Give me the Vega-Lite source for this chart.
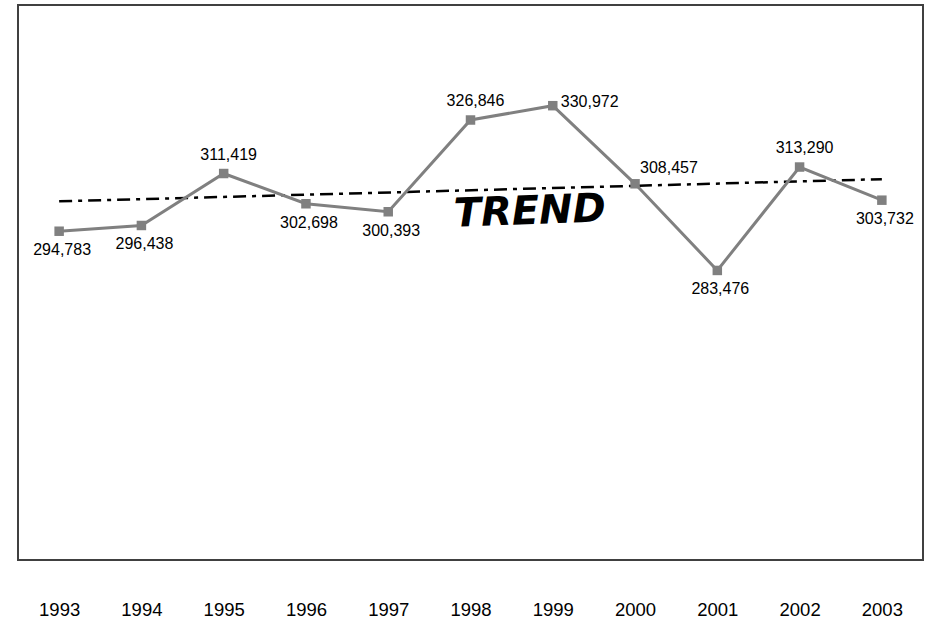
{
  "$schema": "https://vega.github.io/schema/vega-lite/v6.json",
  "autosize": "none",
  "width": 905,
  "height": 555,
  "padding": {"left": 18, "top": 5, "right": 7, "bottom": 59},
  "background": "white",
  "config": {
    "view": {"stroke": "#404040", "strokeWidth": 2},
    "font": "Liberation Sans"
  },
  "datasets": {
    "main": [
      {"year": 1993, "value": 294783},
      {"year": 1994, "value": 296438},
      {"year": 1995, "value": 311419},
      {"year": 1996, "value": 302698},
      {"year": 1997, "value": 300393},
      {"year": 1998, "value": 326846},
      {"year": 1999, "value": 330972},
      {"year": 2000, "value": 308457},
      {"year": 2001, "value": 283476},
      {"year": 2002, "value": 313290},
      {"year": 2003, "value": 303732}
    ],
    "note": [
      {"year": 1998.72, "value": 300300, "label": "TREND"}
    ]
  },
  "data": {"name": "main"},
  "encoding": {
    "x": {
      "field": "year",
      "type": "quantitative",
      "scale": {"domain": [1992.5, 2003.5], "nice": false, "zero": false},
      "axis": {
        "values": [1993, 1994, 1995, 1996, 1997, 1998, 1999, 2000, 2001, 2002, 2003],
        "format": "d",
        "title": null,
        "grid": false,
        "domain": false,
        "ticks": false,
        "tickSize": 0,
        "labelPadding": 49,
        "labelBaseline": "middle",
        "labelFontSize": 18.5,
        "labelColor": "#000000",
        "labelFont": "Liberation Sans"
      }
    },
    "y": {
      "field": "value",
      "type": "quantitative",
      "scale": {"domain": [200000, 360000], "nice": false, "zero": false},
      "axis": null
    }
  },
  "layer": [
    {
      "transform": [{"regression": "value", "on": "year"}],
      "mark": {"type": "line", "color": "#000000", "strokeWidth": 2.5, "strokeDash": [13, 6, 4, 6]}
    },
    {
      "mark": {"type": "line", "color": "#808080", "strokeWidth": 3}
    },
    {
      "mark": {"type": "point", "shape": "square", "filled": true, "size": 90, "color": "#808080", "opacity": 1}
    },
    {
      "transform": [{"filter": {"field": "year", "oneOf": [1993, 1994, 1996, 1997, 2001, 2003]}}],
      "mark": {"type": "text", "dx": 3, "dy": 19, "fontSize": 16, "color": "#000000", "baseline": "middle", "align": "center"},
      "encoding": {"text": {"field": "value", "type": "quantitative", "format": ",d"}}
    },
    {
      "transform": [{"filter": {"field": "year", "oneOf": [1995, 1998, 2002]}}],
      "mark": {"type": "text", "dx": 5, "dy": -19, "fontSize": 16, "color": "#000000", "baseline": "middle", "align": "center"},
      "encoding": {"text": {"field": "value", "type": "quantitative", "format": ",d"}}
    },
    {
      "transform": [{"filter": {"field": "year", "oneOf": [1999]}}],
      "mark": {"type": "text", "dx": 8, "dy": -4, "fontSize": 16, "color": "#000000", "baseline": "middle", "align": "left"},
      "encoding": {"text": {"field": "value", "type": "quantitative", "format": ",d"}}
    },
    {
      "transform": [{"filter": {"field": "year", "oneOf": [2000]}}],
      "mark": {"type": "text", "dx": 5, "dy": -16, "fontSize": 16, "color": "#000000", "baseline": "middle", "align": "left"},
      "encoding": {"text": {"field": "value", "type": "quantitative", "format": ",d"}}
    },
    {
      "data": {"name": "note"},
      "mark": {"type": "text", "font": "DejaVu Sans", "fontWeight": "bold", "fontStyle": "italic", "fontSize": 40, "color": "#000000", "angle": -2, "baseline": "middle", "align": "center"},
      "encoding": {"text": {"field": "label", "type": "nominal"}}
    }
  ]
}
